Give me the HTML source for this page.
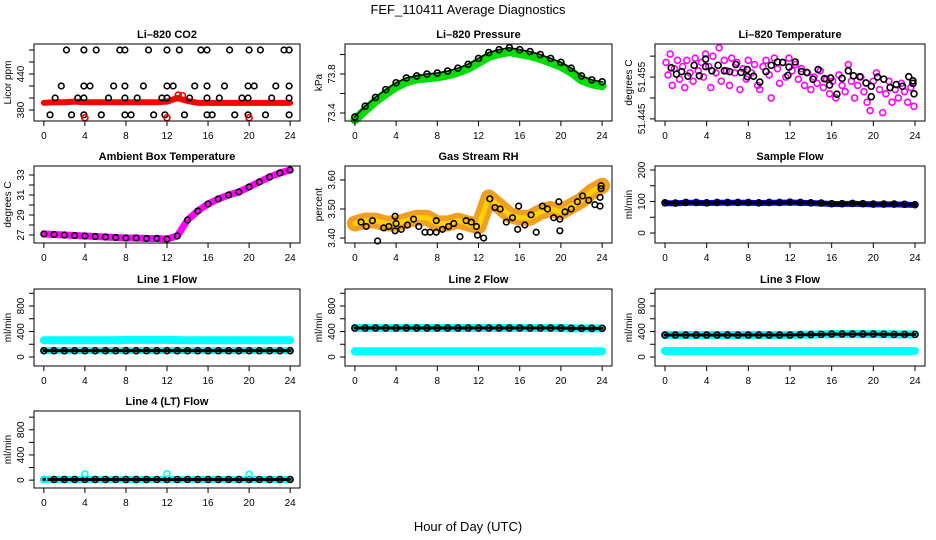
<!DOCTYPE html>
<html><head><meta charset="utf-8"><style>
html,body{margin:0;padding:0;background:#fff;}
svg{display:block;font-family:"Liberation Sans",sans-serif;}
</style></head><body>
<svg id="c" width="936" height="540" viewBox="0 0 936 540">
<text x="468" y="14" text-anchor="middle" font-size="13">FEF_110411  Average Diagnostics</text>
<text x="468" y="531" text-anchor="middle" font-size="13">Hour of Day (UTC)</text>
</svg>
<script>
const hours=[0,1,2,3,4,5,6,7,8,9,10,11,12,13,14,15,16,17,18,19,20,21,22,23,24];
const xTicks=[0,4,8,12,16,20,24];
// CO2
const co2Red=[392,393,393,394,393,393,393,393,393,393,393,393,394,400,395,392,392,392,392,392,392,392,392,392,392];
const co2BlackX=[2.2,3.9,5.1,7.4,7.9,10.2,12,13.2,15.3,15.9,18.1,20,21.1,23.4,23.9,1.7,3.9,4.5,6.8,7.9,9.7,12,12.6,14.7,15.9,17.6,19.9,20.5,22.6,23.9,1.1,3.3,3.9,6.3,7.9,9.1,11.5,12,14.2,15.9,17.1,19.3,19.9,22.2,23.9,0.6,2.7,3.9,5.6,7.9,8.5,10.7,11.8,13.7,15.9,16.4,18.6,19.9,21.6,23.9];
const co2BlackY=[480,480,480,480,480,480,480,480,480,480,480,480,480,480,480,420,420,420,420,420,420,420,420,420,420,420,420,420,420,420,400,400,400,400,400,400,400,400,400,400,400,400,400,400,400,372,372,372,372,372,372,372,372,372,372,372,372,372,372,372];
const co2OutX=[4,12,13.1,13.5,20];
const co2OutY=[367,367,405,404,367];
// Pressure
const presBlack=[73.36,73.47,73.56,73.64,73.71,73.76,73.78,73.80,73.81,73.83,73.86,73.90,73.96,74.02,74.05,74.07,74.05,74.03,74.00,73.96,73.92,73.86,73.78,73.74,73.72];
const presGreen=[73.33,73.43,73.52,73.60,73.67,73.72,73.75,73.76,73.77,73.79,73.82,73.86,73.92,73.98,74.01,74.03,74.01,73.99,73.96,73.92,73.88,73.82,73.74,73.70,73.68];
// Li-820 temperature
const ltMagX=[0.1,0.3,0.5,0.7,0.9,1.2,1.4,1.7,1.9,2.1,2.4,2.7,2.9,3.2,3.5,3.7,3.9,4.2,4.4,4.6,4.9,5.2,5.4,5.7,5.9,6.2,6.4,6.7,6.9,7.2,7.5,7.8,8.0,8.3,8.6,8.9,9.1,9.4,9.7,10.0,10.2,10.5,10.8,11.0,11.3,11.6,11.9,12.2,12.5,12.8,13.1,13.4,13.7,14.0,14.3,14.6,14.9,15.2,15.5,15.8,16.1,16.4,16.7,17.0,17.3,17.6,17.9,18.2,18.5,18.8,19.1,19.4,19.7,20.0,20.3,20.6,20.9,21.2,21.5,21.8,22.1,22.4,22.7,23.0,23.3,23.6,23.9];
const ltMagY=[51.4585,51.4555,51.4605,51.4530,51.4570,51.4590,51.4545,51.4575,51.4525,51.4590,51.4560,51.4540,51.4595,51.4565,51.4585,51.4550,51.4605,51.4575,51.4525,51.4600,51.4560,51.4620,51.4540,51.4590,51.4565,51.4530,51.4595,51.4560,51.4585,51.4520,51.4570,51.4545,51.4590,51.4560,51.4580,51.4530,51.4520,51.4575,51.4590,51.4555,51.4500,51.4595,51.4570,51.4535,51.4585,51.4550,51.4595,51.4565,51.4580,51.4545,51.4570,51.4530,51.4560,51.4520,51.4550,51.4535,51.4565,51.4525,51.4545,51.4510,51.4540,51.4500,51.4555,51.4530,51.4515,51.4580,51.4540,51.4500,51.4530,51.4550,51.4515,51.4490,51.4470,51.4540,51.4560,51.4520,51.4465,51.4510,51.4540,51.4490,51.4520,51.4500,51.4535,51.4515,51.4490,51.4525,51.4480];
const ltBlkX=[0.6,1.1,1.6,2.2,2.8,3.3,3.9,3.9,4.5,5.1,5.7,6.2,6.8,7.3,7.9,7.9,8.5,9.1,9.7,10.2,10.8,11.3,11.8,11.9,12.5,13.1,13.6,14.2,14.7,15.3,15.8,15.9,16.5,17.0,17.6,18.1,18.7,19.3,19.8,19.8,20.4,21.0,21.6,22.2,22.8,23.4,23.8,23.8,23.9];
const ltBlkY=[51.4572,51.4557,51.4563,51.4552,51.4578,51.4553,51.4575,51.4593,51.4565,51.4578,51.4565,51.4563,51.4580,51.4561,51.4551,51.4568,51.4552,51.4538,51.4563,51.4578,51.4586,51.4585,51.4554,51.4574,51.4586,51.4563,51.4561,51.4545,51.4568,51.4546,51.4531,51.4548,51.4509,51.4547,51.4565,51.4553,51.4551,51.4536,51.4528,51.4503,51.4550,51.4545,51.4525,51.4532,51.4528,51.4551,51.4541,51.4535,51.4510];
// Ambient
const ambTemp=[27.1,27.05,27.0,26.95,26.9,26.85,26.8,26.75,26.7,26.7,26.65,26.65,26.6,26.9,28.5,29.4,30.1,30.6,31.0,31.3,31.8,32.3,32.8,33.2,33.5];
// RH
const rhBand=[3.45,3.46,3.46,3.45,3.45,3.46,3.47,3.47,3.45,3.45,3.46,3.45,3.44,3.54,3.51,3.48,3.47,3.47,3.49,3.50,3.49,3.51,3.53,3.56,3.58];
const rhBlkX=[0.6,1.1,1.7,2.2,2.8,3.3,3.9,3.9,4.0,4.5,5.1,5.7,6.2,6.8,7.3,7.9,7.9,8.5,9.1,9.6,10.2,10.8,11.3,11.8,11.9,12.5,13.1,13.6,14.1,14.7,15.3,15.8,15.9,16.5,17.1,17.6,18.2,18.7,19.3,19.8,19.9,19.9,20.4,21.0,21.6,22.1,22.7,23.3,23.8,23.8,23.9,23.9];
const rhBlkY=[3.455,3.44,3.46,3.39,3.435,3.44,3.475,3.425,3.45,3.43,3.445,3.465,3.44,3.42,3.42,3.42,3.46,3.43,3.44,3.45,3.405,3.46,3.455,3.44,3.41,3.40,3.535,3.505,3.50,3.455,3.47,3.43,3.51,3.445,3.48,3.42,3.51,3.50,3.47,3.525,3.465,3.425,3.49,3.50,3.525,3.545,3.53,3.515,3.51,3.54,3.57,3.58];
// Flows
const sampleBlue=[95,94,96,96,95,96,96,96,96,95,96,96,97,96,95,94,92,92,93,92,91,91,91,90,89];
const sampleBlack=[96,95,97,97,96,97,97,97,97,96,97,97,98,97,96,95,93,93,94,93,92,92,92,91,90];
const l1Cyan=[262,262,262,262,262,262,262,262,268,268,268,268,268,265,262,262,262,262,262,262,262,262,262,262,262];
const l1Black=[100,100,100,100,100,100,100,100,100,100,100,100,100,100,100,100,100,100,100,100,100,100,100,100,100];
const l2Cyan=[90,90,90,90,90,90,90,90,90,90,90,90,90,90,90,90,90,90,90,90,90,90,90,90,90];
const l2Black=[455,455,455,455,455,455,455,455,455,455,455,455,455,455,455,455,455,455,455,455,455,450,450,450,450];
const l3Cyan=[95,95,95,95,95,95,95,95,95,95,95,95,95,95,95,95,95,95,95,95,95,95,95,95,95];
const l3Black=[345,345,345,345,345,345,345,345,345,345,345,345,345,350,352,355,360,360,360,360,360,358,355,355,355];
const l4Black=[10,10,10,10,10,10,10,10,10,10,10,10,10,10,10,10,10,10,10,10,10,10,10,10,10];
const l4OutX=[0,4,12,20];
const l4OutY=[10,100,100,90];

const NS='http://www.w3.org/2000/svg';
const svg=document.getElementById('c');
function mk(tag,attrs,parent){const e=document.createElementNS(NS,tag);for(const k in attrs)e.setAttribute(k,attrs[k]);(parent||svg).appendChild(e);return e;}
const cols=[[34,300],[345,612],[655,925]];
const rows=[[44,121],[166,243],[289,366],[411,488]];
function panel(cfg){
  const [x0,x1]=cols[cfg.c],[y0,y1]=rows[cfg.r];
  const g=mk('g',{});
  
  
  const xs=h=>x0+(h+0.96)/25.92*(x1-x0);
  const ys=v=>y1-(v-cfg.lo)/(cfg.hi-cfg.lo)*(y1-y0);
  const cg=mk('g',{},g);
  
  
  const t=mk('text',{x:(x0+x1)/2,y:y0-6,'text-anchor':'middle','font-size':11,'font-weight':'bold'},g);
  t.textContent=cfg.title;
  
  
  mk('rect',{x:x0,y:y0,width:x1-x0,height:y1-y0,fill:'none',stroke:'#000','stroke-width':1},g);
  mk('line',{x1:xs(0),x2:xs(24),y1:y1,y2:y1,stroke:'#000'},g);
  xTicks.forEach(h=>{mk('line',{x1:xs(h),x2:xs(h),y1:y1,y2:y1+5,stroke:'#000'},g);
    const l=mk('text',{x:xs(h),y:y1+18,'text-anchor':'middle','font-size':10},g);l.textContent=h;
    
    });
  mk('line',{x1:x0,x2:x0,y1:ys(cfg.ticks[0]),y2:ys(cfg.ticks[cfg.ticks.length-1]),stroke:'#000'},g);
  cfg.ticks.forEach(v=>mk('line',{x1:x0-5,x2:x0,y1:ys(v),y2:ys(v),stroke:'#000'},g));
  cfg.labels.forEach(v=>{const yy=ys(v),xx=x0-10;const l=mk('text',{x:xx,y:yy,'text-anchor':'middle','font-size':10,transform:`rotate(-90 ${xx} ${yy})`},g);l.textContent=cfg.fmt?cfg.fmt(v):v;
    
    });
  const yl=mk('text',{x:x0-23,y:(y0+y1)/2,'text-anchor':'middle','font-size':10,transform:`rotate(-90 ${x0-23} ${(y0+y1)/2})`},g);
  yl.textContent=cfg.ylab;
  
  
  const line=(arr,col,w,nm)=>{const p=mk('polyline',{points:hours.map((h,i)=>xs(h)+','+ys(arr[i])).join(' '),fill:'none',stroke:col,'stroke-width':w,'stroke-linejoin':'round','stroke-linecap':'round'},cg);
    
    };
  const pts=(X,Y,col,r,nm)=>X.forEach((h,i)=>{const c=mk('circle',{cx:xs(h),cy:ys(Y[i]),r:r||2.8,fill:'none',stroke:col,'stroke-width':1.6},cg);
    
    });
  cfg.draw(line,pts);
}
const H=hours;
panel({name:'co2-panel',c:0,r:0,lo:361.7,hi:490,ticks:[380,400,420,440,460,480],labels:[380,440],title:'Li–820 CO2',ylab:'Licor ppm',
 draw:(line,pts)=>{line(co2Red,'#ff0000',6,'co2-series');pts(co2BlackX,co2BlackY,'#000',2.8,'co2-point');pts(co2OutX,co2OutY,'#ff0000',3,'co2-outlier');}});
panel({name:'pressure-panel',c:1,r:0,lo:73.318,hi:74.108,ticks:[73.4,73.6,73.8,74.0],labels:[73.4,73.8],fmt:v=>v.toFixed(1),title:'Li–820 Pressure',ylab:'kPa',
 draw:(line,pts)=>{line(presGreen,'#00dd00',9,'pressure-band');pts(H,presBlack,'#000',3,'pressure-point');line(presBlack,'#000',1.5,'pressure-line');}});
panel({name:'li820-temp-panel',c:2,r:0,lo:51.4445,hi:51.4629,ticks:[51.445,51.45,51.455,51.46],labels:[51.445,51.455],fmt:v=>v.toFixed(3),title:'Li–820 Temperature',ylab:'degrees C',
 draw:(line,pts)=>{pts(ltMagX,ltMagY,'#ff00ff',3,'temp-point-magenta');pts(ltBlkX,ltBlkY,'#000',3,'temp-point-black');}});
panel({name:'ambient-temp-panel',c:0,r:1,lo:26.2,hi:33.9,ticks:[27,28,29,30,31,32,33],labels:[27,29,31,33],title:'Ambient Box Temperature',ylab:'degrees C',
 draw:(line,pts)=>{line(ambTemp,'#ff00ff',7,'ambient-line');pts(H,ambTemp,'#000',2.8,'ambient-point');}});
panel({name:'rh-panel',c:1,r:1,lo:3.383,hi:3.648,ticks:[3.4,3.5,3.6],labels:[3.4,3.5,3.6],fmt:v=>v.toFixed(2),title:'Gas Stream RH',ylab:'percent',
 draw:(line,pts)=>{line(rhBand,'#f0a020',16,'rh-band');line(rhBand,'#ffd000',5,'rh-band-core');pts(rhBlkX,rhBlkY,'#000',2.8,'rh-point');}});
panel({name:'sample-flow-panel',c:2,r:1,lo:-31.7,hi:212.7,ticks:[0,50,100,150,200],labels:[0,100,200],title:'Sample Flow',ylab:'ml/min',
 draw:(line,pts)=>{line(sampleBlue,'#0000ff',6,'sample-line');line(sampleBlack,'#000',3,'sample-black-line');pts(H,sampleBlack,'#000',3,'sample-point');}});
const fT=[0,200,400,600,800,1000],fL=[0,400,800];
panel({name:'line1-flow-panel',c:0,r:2,lo:-141,hi:1067,ticks:fT,labels:fL,title:'Line 1 Flow',ylab:'ml/min',
 draw:(line,pts)=>{line(l1Cyan,'#00ffff',8,'line1-cyan');line(l1Black,'#00ffff',7,'line1-cyan-low');line(l1Black,'#000',3,'line1-black');pts(H,l1Black,'#000',3,'line1-point');}});
panel({name:'line2-flow-panel',c:1,r:2,lo:-141,hi:1067,ticks:fT,labels:fL,title:'Line 2 Flow',ylab:'ml/min',
 draw:(line,pts)=>{line(l2Cyan,'#00ffff',8,'line2-cyan');line(l2Black,'#00ffff',8,'line2-cyan-high');line(l2Black,'#000',3,'line2-black');pts(H,l2Black,'#000',3,'line2-point');}});
panel({name:'line3-flow-panel',c:2,r:2,lo:-141,hi:1067,ticks:fT,labels:fL,title:'Line 3 Flow',ylab:'ml/min',
 draw:(line,pts)=>{line(l3Cyan,'#00ffff',8,'line3-cyan');line(l3Black,'#00ffff',8,'line3-cyan-high');line(l3Black,'#000',3,'line3-black');pts(H,l3Black,'#000',3,'line3-point');}});
panel({name:'line4-flow-panel',c:0,r:3,lo:-125,hi:1098,ticks:fT,labels:fL,title:'Line 4 (LT) Flow',ylab:'ml/min',
 draw:(line,pts)=>{line(l4Black,'#00ffff',7,'line4-cyan');line(l4Black,'#000',3,'line4-black');pts(H,l4Black,'#000',3,'line4-point');pts(l4OutX,l4OutY,'#00ffff',3,'line4-outlier');}});
</script>
</body></html>
